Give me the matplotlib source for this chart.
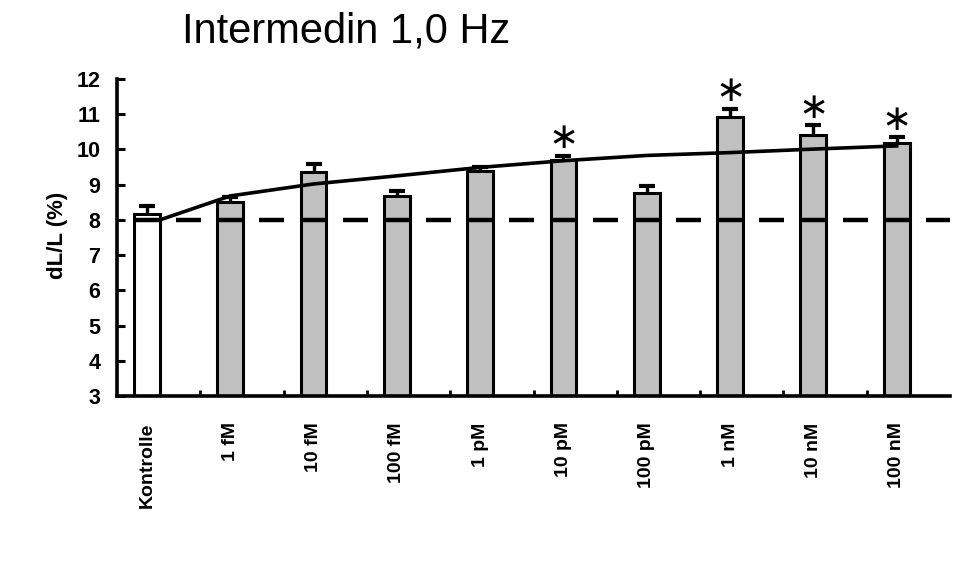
import numpy as np
import matplotlib
matplotlib.use("Agg")
import matplotlib.pyplot as plt
from matplotlib.collections import LineCollection

# Contraction amplitude (dL/L, %) at 1.0 Hz stimulation for increasing intermedin doses
categories = ["Kontrolle", "1 fM", "10 fM", "100 fM", "1 pM", "10 pM",
              "100 pM", "1 nM", "10 nM", "100 nM"]
means = [8.17, 8.50, 9.36, 8.69, 9.38, 9.70, 8.75, 10.92, 10.42, 10.18]
sem = [0.22, 0.14, 0.24, 0.12, 0.11, 0.12, 0.21, 0.24, 0.27, 0.16]
trend = [8.0, 8.68, 9.02, 9.25, 9.49, 9.68, 9.83, 9.91, 10.01, 10.10]
significant = [False, False, False, False, False, True, False, True, True, True]
baseline = 8.0
yticks = list(range(3, 13))
title = "Intermedin 1,0 Hz"
ylabel = "dL/L (%)"

plt.rcParams["font.family"] = ["Liberation Sans", "DejaVu Sans"]

W, H = 958, 568
fig = plt.figure(figsize=(W / 100, H / 100), dpi=100)
ax = fig.add_axes([117 / W, 1 - 396 / H, 833 / W, 317 / H])

n = len(categories)
x = np.arange(n)
bar_w = 0.31
floor = yticks[0]
colors = ["white"] + ["#c0c0c0"] * (n - 1)
means_arr = np.asarray(means)

ax.bar(x, means_arr - floor, width=bar_w, bottom=floor,
       color=colors, edgecolor="black", linewidth=2.2, zorder=2)

# upper error bars only: stem plus cap
tops = means_arr + np.asarray(sem)
ax.vlines(x, means_arr, tops, color="black", linewidth=2.4, zorder=4)
ax.plot(x, tops, linestyle="none", marker="_", markersize=11,
        markeredgewidth=3.0, color="black", zorder=4)

# reference level as dashes centred on each category and each gap
centres = np.arange(0, n, 0.5)
half = 0.15
segs = [[(c - half, baseline), (c + half, baseline)] for c in centres]
ax.add_collection(LineCollection(segs, colors="black", linewidths=3.2, zorder=3))

# trend line across the doses
tx = x.astype(float).copy()
tx[0] = x[0] + bar_w / 2
ax.plot(tx, trend, color="black", linewidth=2.6, zorder=3.5)

# significance marks
for xi, t, s in zip(x, tops, significant):
    if s:
        ax.text(xi, t + 0.5, "\u2217", ha="center", va="center",
                fontsize=26, family=["DejaVu Sans"], zorder=5)

ax.set_ylim(yticks[0], yticks[-1])
ax.set_xlim(-0.36, n - 0.36)
ax.set_yticks(yticks)
ax.set_yticklabels([str(t) for t in yticks], fontsize=15.5, fontweight="bold")
ax.tick_params(axis="y", direction="in", length=6, width=2.2, pad=12)

# boundary ticks between categories, labels at the centres
ax.set_xticks(x[:-1] + 0.64)
ax.set_xticklabels([])
ax.tick_params(axis="x", which="major", direction="in", length=4, width=2.0)
ax.set_xticks(x, minor=True)
ax.set_xticklabels(categories, minor=True, rotation=90, fontsize=14,
                   fontweight="bold", va="top", ha="center")
ax.tick_params(axis="x", which="minor", length=0, pad=19)

for side in ["top", "right"]:
    ax.spines[side].set_visible(False)
for side in ["left", "bottom"]:
    ax.spines[side].set_linewidth(2.6)

fig.text(57 / W, 1 - 235 / H, ylabel, rotation=90, ha="center", va="center",
         fontsize=16, fontweight="bold")
fig.text(346.5 / W, 1 - 42 / H, title, ha="center", va="baseline", fontsize=30)

fig.savefig("out.png", dpi=100)
